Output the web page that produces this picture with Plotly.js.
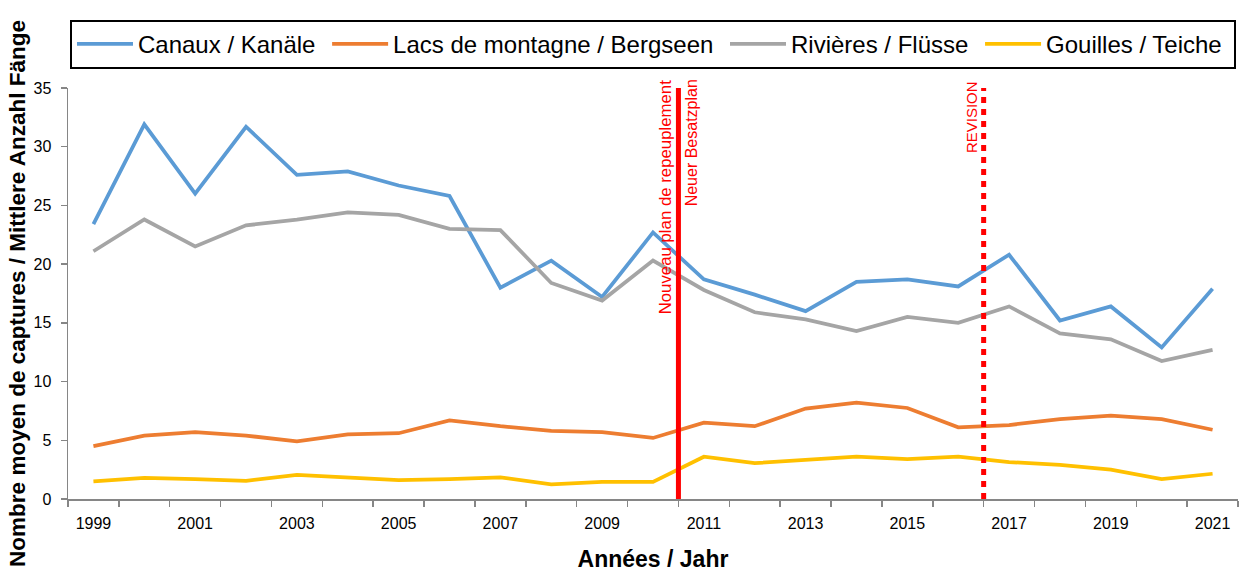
<!DOCTYPE html>
<html>
<head>
<meta charset="utf-8">
<script src="https://cdn.plot.ly/plotly-3.0.1.min.js"></script>
<style>html,body{margin:0;padding:0;background:#fff;}#chart{width:1249px;height:577px;}</style>
</head>
<body>
<div id="chart"></div>
<script>
const years = [1999,2000,2001,2002,2003,2004,2005,2006,2007,2008,2009,2010,2011,2012,2013,2014,2015,2016,2017,2018,2019,2020,2021];
const canaux = [23.4,31.9,26.0,31.7,27.6,27.9,26.7,25.8,18.0,20.3,17.2,22.7,18.7,17.4,16.0,18.5,18.7,18.1,20.8,15.2,16.4,12.9,17.9];
const lacs = [4.5,5.4,5.7,5.4,4.9,5.5,5.6,6.7,6.2,5.8,5.7,5.2,6.5,6.2,7.7,8.2,7.75,6.1,6.3,6.8,7.1,6.8,5.9];
const rivieres = [21.1,23.8,21.5,23.3,23.8,24.4,24.2,23.0,22.9,18.4,16.9,20.3,17.8,15.9,15.3,14.3,15.5,15.0,16.4,14.1,13.6,11.75,12.7];
const gouilles = [1.5,1.8,1.7,1.55,2.05,1.85,1.6,1.7,1.85,1.25,1.45,1.45,3.6,3.05,3.3,3.6,3.4,3.6,3.15,2.9,2.5,1.7,2.15];
const seriesNames = ['Canaux / Kanäle','Lacs de montagne / Bergseen','Rivières / Flüsse','Gouilles / Teiche'];
const seriesColors = ['#5B9BD5','#ED7D31','#A5A5A5','#FFC000'];
const tickYears = [1999,2001,2003,2005,2007,2009,2011,2013,2015,2017,2019,2021];
const events = [
  {x:2010.5, labels:['Nouveau plan de repeuplement','Neuer Besatzplan'], dash:'solid'},
  {x:2016.5, labels:['REVISION'], dash:'6px,6px'}
];

const font = 'Liberation Sans, Arial, sans-serif';
const pad = '\u00a0';
const data = [canaux,lacs,rivieres,gouilles].map((v,i)=>({
  x: years, y: v, type:'scatter', mode:'lines', name: seriesNames[i] + pad,
  line:{color:seriesColors[i], width:3.75}
}));

const shapes = events.map(e=>({
  type:'line', xref:'x', yref:'y', x0:e.x, x1:e.x, y0:0, y1: e.dash==='solid'?35.8:35.3,
  line:{color:'#FF0000', width:5, dash:e.dash}
}));
const annotations = [];
events.forEach(e=>{
  if (e.labels.length===2){
    annotations.push({xref:'x',yref:'paper',x:e.x,y:1.027,xanchor:'right',yanchor:'top',xshift:-2,text:e.labels[0],textangle:-90,showarrow:false,font:{family:font,size:16.8,color:'#FF0000'}});
    annotations.push({xref:'x',yref:'paper',x:e.x,y:1.027,xanchor:'left',yanchor:'top',xshift:2,text:e.labels[1],textangle:-90,showarrow:false,font:{family:font,size:16,color:'#FF0000'}});
  } else {
    annotations.push({xref:'x',yref:'paper',x:e.x,y:1.022,xanchor:'right',yanchor:'top',xshift:-1,text:e.labels[0],textangle:-90,showarrow:false,font:{family:font,size:15,color:'#FF0000'}});
  }
});

const layout = {
  width:1249, height:577, autosize:false,
  margin:{l:68,r:11,t:88,b:78,pad:0},
  paper_bgcolor:'#fff', plot_bgcolor:'#fff',
  font:{family:font,color:'#000'},
  showlegend:true,
  legend:{orientation:'h', x:0.0017, y:1.166, xanchor:'left', yanchor:'top', itemwidth:56,
    bordercolor:'#000', borderwidth:2, font:{family:font,size:24,color:'#000'}, bgcolor:'#fff'},
  xaxis:{range:[1998.5,2021.5], tickmode:'array', tickvals:tickYears, ticktext:tickYears.map(String),
    ticks:'', showgrid:false, zeroline:false, showline:true, linecolor:'#868686', linewidth:1.5,
    ticklabelstandoff:9,
    tickfont:{family:font,size:16,color:'#000'},
    minor:{tick0:1998.5, dtick:1, ticks:'outside', ticklen:6, tickcolor:'#868686', tickwidth:1.5, showgrid:false},
    title:{text:'<b>Années / Jahr</b>', font:{family:font,size:23,color:'#000'}, standoff:20}
  },
  yaxis:{range:[0,35], tickmode:'array', tickvals:[0,5,10,15,20,25,30,35],
    ticks:'outside', ticklen:6, tickcolor:'#868686', tickwidth:1.5,
    ticklabelstandoff:6,
    showgrid:false, zeroline:false, showline:true, linecolor:'#868686', linewidth:1.5,
    tickfont:{family:font,size:16,color:'#000'},
    title:{text:'<b>Nombre moyen de captures / Mittlere Anzahl Fänge</b>', font:{family:font,size:22.5,color:'#000'}, standoff:1}
  },
  shapes: shapes,
  annotations: annotations
};
Plotly.newPlot('chart', data, layout, {displayModeBar:false, staticPlot:true});
</script>
</body>
</html>
